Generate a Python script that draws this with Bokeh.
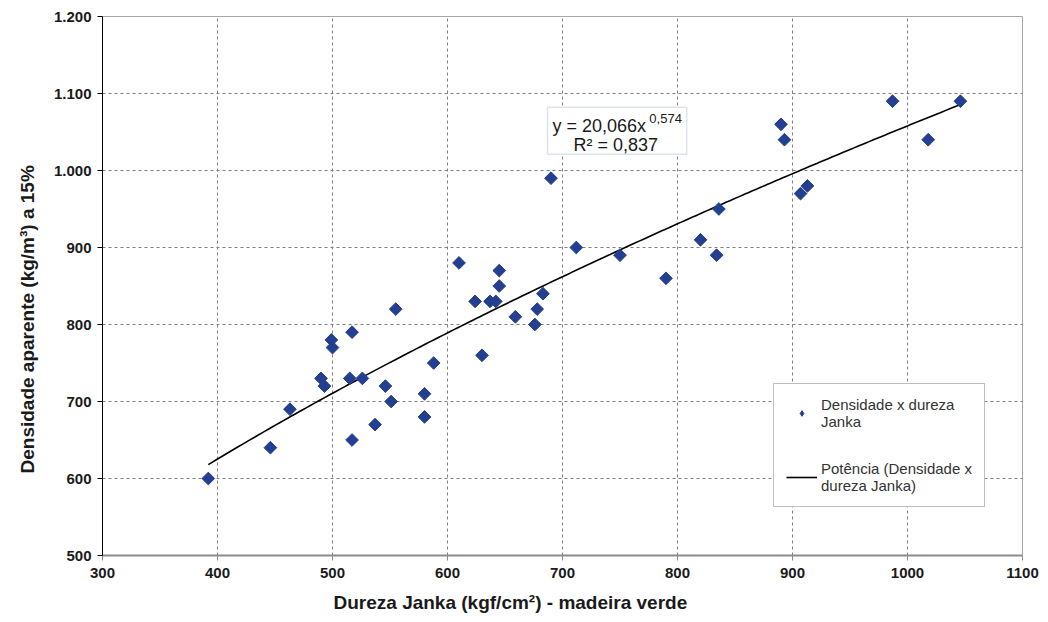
import numpy as np
from bokeh.plotting import figure
from bokeh.models import Legend, LegendItem, Label, BoxAnnotation, FixedTicker, Range1d, Title
from bokeh.embed import file_html
from bokeh.resources import INLINE

# ---- data ----
dureza = [392, 446, 463, 490, 493, 499, 500, 515, 517, 517, 526, 537, 546, 551, 555,
          580, 580, 588, 610, 624, 630, 637, 642, 645, 645, 659, 676, 678, 683, 690,
          712, 750, 790, 820, 834, 836, 890, 893, 907, 913, 987, 1018, 1046]
densidade = [600, 640, 690, 730, 720, 780, 770, 730, 790, 650, 730, 670, 720, 700, 820,
             710, 680, 750, 880, 830, 760, 830, 830, 870, 850, 810, 800, 820, 840, 990,
             900, 890, 860, 910, 890, 950, 1060, 1040, 970, 980, 1090, 1040, 1090]

fit_a = 20.066
fit_b = 0.574
eq_text = "y = 20,066x"
eq_exp = "0,574"
r2_text = "R² = 0,837"

x_ticks = [300, 400, 500, 600, 700, 800, 900, 1000, 1100]
y_ticks = [500, 600, 700, 800, 900, 1000, 1100, 1200]
y_tick_labels = ["500", "600", "700", "800", "900", "1.000", "1.100", "1.200"]

x_title = "Dureza Janka (kgf/cm²) - madeira verde"
y_title = "Densidade aparente (kg/m³) a 15%"
series_name = "Densidade x dureza\nJanka"
trend_name = "Potência (Densidade x\ndureza Janka)"

# trend line from the equation shown on the chart
xt = np.linspace(min(dureza), max(dureza), 200)
yt = fit_a * xt ** fit_b

FONT = "Liberation Sans"
BLUE = "#243F8F"
TXT = "#1a1a1a"

p = figure(width=1048, height=622, output_backend="svg", toolbar_location=None,
           x_range=Range1d(300, 1100), y_range=Range1d(500, 1200),
           min_border_left=102, min_border_right=26, min_border_top=16, min_border_bottom=67)
p.background_fill_color = "white"
p.border_fill_color = "white"
p.outline_line_color = "#A6A6A6"
p.outline_line_width = 1

# axes
p.xaxis.ticker = FixedTicker(ticks=x_ticks)
p.yaxis.ticker = FixedTicker(ticks=y_ticks)
p.yaxis.major_label_overrides = {t: l for t, l in zip(y_ticks, y_tick_labels)}
for ax in (p.xaxis[0], p.yaxis[0]):
    ax.major_label_text_font = FONT
    ax.major_label_text_font_style = "bold"
    ax.major_label_text_font_size = "15px"
    ax.major_label_text_color = TXT
    ax.minor_tick_line_color = None
    ax.major_tick_in = 0
    ax.major_tick_out = 5
p.yaxis.axis_line_color = "black"
p.yaxis.major_tick_line_color = "black"
p.xaxis.axis_line_color = "#8C8C8C"
p.xaxis.axis_line_width = 2
p.xaxis.major_tick_line_color = "#8C8C8C"
p.xaxis.major_label_standoff = 7
p.yaxis.major_label_standoff = 6

# grid
p.xgrid.ticker = FixedTicker(ticks=x_ticks[1:-1])
p.ygrid.ticker = FixedTicker(ticks=y_ticks[1:-1])
for g in (p.xgrid[0], p.ygrid[0]):
    g.grid_line_color = "#7F7F7F"
    g.grid_line_dash = "3 3"
    g.grid_line_width = 1

# axis titles (slightly off-centre, as in the reference)
p.add_layout(Title(text=x_title, align="left", offset=231, text_font=FONT,
                   text_font_style="bold", text_font_size="19px", text_color=TXT,
                   standoff=19), "below")
p.add_layout(Title(text=y_title, align="left", offset=82, text_font=FONT,
                   text_font_style="bold", text_font_size="19px", text_color=TXT,
                   standoff=25), "left")

# glyphs
trend = p.line(xt, yt, line_color="black", line_width=1.6)
# diamond sample for the legend, hidden under the rotated squares
proxy = p.scatter(dureza, densidade, marker="diamond", size=10, fill_color=BLUE, line_color=BLUE)
pts = p.scatter(dureza, densidade, marker="square", angle=np.pi / 4, size=9,
                fill_color=BLUE, line_color=BLUE, line_width=1)

legend = Legend(items=[LegendItem(label=series_name, renderers=[proxy]),
                       LegendItem(label=trend_name, renderers=[trend])],
                location=(671, 48), orientation="vertical",
                label_text_font=FONT, label_text_font_size="15px", label_text_color="#333333",
                glyph_width=31, glyph_height=14, spacing=30, padding=12, margin=0,
                border_line_color="#7F7F7F", border_line_width=1,
                background_fill_color="white", background_fill_alpha=1,
                label_standoff=4)
p.add_layout(legend, "center")

# equation box
box = BoxAnnotation(left=687, right=808, top=1082, bottom=1021,
                    fill_color="white", fill_alpha=1, line_color="#8EA2C4", line_width=1.5)
p.add_layout(box)
p.add_layout(Label(x=691.3, y=1058.4, text=eq_text, text_font=FONT, text_font_size="18px",
                   text_color=TXT, text_baseline="alphabetic"))
p.add_layout(Label(x=775.5, y=1067.5, text=eq_exp, text_font=FONT, text_font_size="13px",
                   text_color=TXT, text_baseline="alphabetic"))
p.add_layout(Label(x=709.6, y=1032.5, text=r2_text, text_font=FONT, text_font_size="18px",
                   text_color=TXT, text_baseline="alphabetic"))

open("out.html", "w").write(file_html(p, INLINE))
